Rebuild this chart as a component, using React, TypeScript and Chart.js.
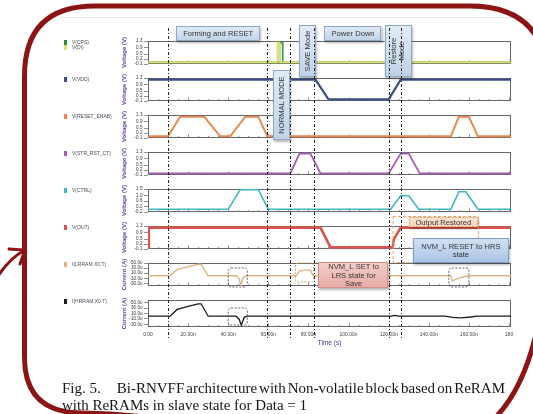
import React, { useEffect, useRef } from "react";
import { Chart, registerables } from "chart.js";

Chart.register(...registerables);

// ---------------- data ----------------
const TIME_MAX = 181;

const xTickValues = [0, 20, 40, 60, 80, 100, 120, 140, 160, 180];
const xTickLabels = ["0.00", "20.00n", "40.00n", "60.00n", "80.00n", "100.00n", "120.00n", "140.00n", "160.00n", "180"];

const voltTickValues = [-0.1, 0.2, 0.5, 0.9, 1.3];
const voltTickLabels = ["-0.1", "0.2", "0.5", "0.9", "1.3"];
const ctrlTickValues = [-0.2, 0.2, 0.6, 1.0, 1.5];
const ctrlTickLabels = ["-0.2", "0.2", "0.6", "1.0", "1.5"];
const curTickValues = [-30, -10, 10, 30, 50];
const curTickLabels = ["-30.0u", "-10.0u", "10.0u", "30.0u", "50.0u"];

const vdiTime = [0, 64.4, 64.5, 65.6, 65.7, 181];
const vdiVolt = [0, 0, 1.2, 1.2, 0, 0];
const vcpsTime = [0, 65.5, 65.6, 67.1, 67.2, 181];
const vcpsVolt = [0, 0, 1.2, 1.2, 0, 0];
const vddTime = [0, 83.5, 90, 120, 126, 181];
const vddVolt = [1.2, 1.2, 0, 0, 1.2, 1.2];
const resetTime = [0, 10, 16, 28, 36, 41, 48.5, 55, 59.5, 151, 155, 160, 164.5, 181];
const resetVolt = [0, 0, 1.2, 1.2, 0, 0, 1.2, 1.2, 0, 0, 1.2, 1.2, 0, 0];
const strTime = [0, 71, 75.5, 81, 86, 120, 126, 130, 135.5, 181];
const strVolt = [0, 0, 1.2, 1.2, 0, 0, 1.2, 1.2, 0, 0];
const ctrlTime = [0, 40, 46, 55, 60, 121, 126, 130, 135, 151, 155, 158.5, 164.5, 181];
const ctrlVolt = [0, 0, 1.45, 1.45, 0, 0, 1.0, 1.0, 0, 0, 1.3, 1.3, 0, 0];
const outTime = [0, 0.4, 86, 91, 122, 122.6, 126, 181];
const outVolt = [0, 1.2, 1.2, 0, 0, 0.5, 1.2, 1.2];
const iLrsTime = [0, 11, 14.5, 20, 25, 26.5, 30, 44, 45.5, 46.2, 47.5, 49, 74, 75.5, 78, 81, 82.3, 151, 151.6, 155, 158, 161, 181];
const iLrsCur = [0, 0, 25, 35, 45, 45, 0, 0, -12, -38, -6, 0, 0, 18, 22, 22, 0, 0, -20, -9, -3, 0, 0];
const iHrsTime = [0, 11, 14.5, 20, 25, 26.5, 30, 44, 45.5, 46.5, 48, 49.5, 121.5, 123, 125, 148, 152, 156, 161, 164, 181];
const iHrsCur = [0, 0, 25, 36, 46, 46, 0, 0, -12, -33, -4, 0, 0, 3, 0, 0, -4, -6, -3, 0, 0];

const markerTimes = [10, 59.5, 71, 83, 120, 126];

const captionLead = "Fig. 5.";
const captionRest = "Bi-RNVFF architecture with Non-volatile block based on ReRAM";
const captionLine2 = "with ReRAMs in slave state for Data = 1";

// ---------------- layout / style ----------------
const panelIds = ["p1", "p2", "p3", "p4", "p5", "p6", "p7", "p8"];

const legendItems = [
  { panel: "p1", row: 0, label: "V(CPS)", color: "#2f8a3a" },
  { panel: "p1", row: 1, label: "V(DI)", color: "#e2df74" },
  { panel: "p2", row: 0, label: "V(VDD)", color: "#3b4d86" },
  { panel: "p3", row: 0, label: "V(RESET_ENAB)", color: "#e8874f" },
  { panel: "p4", row: 0, label: "V(STR_RST_CT)", color: "#a55bb5" },
  { panel: "p5", row: 0, label: "V(CTRL)", color: "#3fb6c0" },
  { panel: "p6", row: 0, label: "V(OUT)", color: "#d9534f" },
  { panel: "p7", row: 0, label: "I(LRRAM.X0.T)", color: "#d9b585" },
  { panel: "p8", row: 0, label: "I(HRRAM.X0.T)", color: "#1a1a1a" },
];

const notes = [
  { t0: 14, t1: 56, y0: 26, y1: 41, lines: ["Forming and RESET"], kind: "blue", vertical: false },
  { t0: 88, t1: 116.5, y0: 26, y1: 41, lines: ["Power Down"], kind: "blue", vertical: false },
  { t0: 75.5, t1: 84, y0: 25, y1: 77, lines: ["SAVE Mode"], kind: "blue", vertical: true },
  { t0: 62.5, t1: 71, y0: 70, y1: 140, lines: ["NORMAL MODE"], kind: "blue", vertical: true },
  { t0: 118, t1: 131.5, y0: 25, y1: 77, lines: ["Restore", "Mode"], kind: "blue", vertical: true },
  { t0: 130, t1: 164.5, y0: 217, y1: 227, lines: ["Output Restored"], kind: "peach", vertical: false },
  { t0: 132, t1: 180, y0: 238, y1: 263, lines: ["NVM_L RESET to HRS", "state"], kind: "deepblue", vertical: false },
  { t0: 85, t1: 120, y0: 262, y1: 288, lines: ["NVM_L SET to", "LRS state for", "Save"], kind: "red", vertical: false },
];

const dashedBoxes = [
  { t0: 40, t1: 49.5, y0: 268, y1: 287, color: "#555" },
  { t0: 73.5, t1: 82.5, y0: 263, y1: 282, color: "#c99a55" },
  { t0: 150, t1: 160, y0: 268, y1: 287, color: "#555" },
  { t0: 40, t1: 49.5, y0: 308, y1: 325, color: "#555" },
];

const MAROON = "#8c1414";

function roundRectPath(ctx: any, x: number, y: number, w: number, h: number, r: number) {
  ctx.beginPath();
  ctx.moveTo(x + r, y);
  ctx.lineTo(x + w - r, y);
  ctx.quadraticCurveTo(x + w, y, x + w, y + r);
  ctx.lineTo(x + w, y + h - r);
  ctx.quadraticCurveTo(x + w, y + h, x + w - r, y + h);
  ctx.lineTo(x + r, y + h);
  ctx.quadraticCurveTo(x, y + h, x, y + h - r);
  ctx.lineTo(x, y + r);
  ctx.quadraticCurveTo(x, y, x + r, y);
  ctx.closePath();
}

const overlayPlugin = {
  id: "overlay",
  beforeDraw(chart: any) {
    const { ctx } = chart;
    ctx.save();
    ctx.fillStyle = "#ffffff";
    ctx.fillRect(0, 0, chart.width, chart.height);
    ctx.strokeStyle = "#e4e4e4";
    ctx.lineWidth = 1;
    ctx.beginPath();
    ctx.moveTo(60, 17.5);
    ctx.lineTo(514, 17.5);
    ctx.stroke();
    ctx.restore();
  },
  beforeDatasetsDraw(chart: any) {
    const { ctx, chartArea, scales } = chart;
    const xs = scales.x;
    ctx.save();
    for (const id of panelIds) {
      const s = scales[id];
      const top = Math.round(s.top) + 0.5;
      const bottom = Math.round(s.bottom) - 0.5;
      ctx.strokeStyle = "#666";
      ctx.lineWidth = 1;
      ctx.strokeRect(chartArea.left + 0.5, top, chartArea.width - 1, bottom - top);
      ctx.strokeStyle = "#8a8a8a";
      for (let t = 5; t < TIME_MAX; t += 5) {
        const x = Math.round(xs.getPixelForValue(t)) + 0.5;
        const len = t % 20 === 0 ? 3 : 1.5;
        ctx.beginPath();
        ctx.moveTo(x, bottom);
        ctx.lineTo(x, bottom - len);
        ctx.stroke();
      }
    }
    ctx.restore();
  },
  afterDraw(chart: any) {
    const { ctx, scales } = chart;
    const xs = scales.x;
    const X = (v: number) => xs.getPixelForValue(v);
    ctx.save();

    // dashed region around restored output
    ctx.setLineDash([3, 2]);
    ctx.strokeStyle = "#e0a46c";
    ctx.lineWidth = 1;
    ctx.strokeRect(X(122) + 0.5, 216.5, X(164.5) - X(122), 46);
    ctx.setLineDash([]);

    // annotation boxes
    for (const n of notes) {
      const x0 = X(n.t0), x1 = X(n.t1);
      const w = x1 - x0, h = n.y1 - n.y0;
      const g = ctx.createLinearGradient(0, n.y0, 0, n.y1);
      let stroke = "#8ea7c6";
      if (n.kind === "blue") {
        g.addColorStop(0, "#e3ecf6");
        g.addColorStop(1, "#bfd2e9");
      } else if (n.kind === "deepblue") {
        g.addColorStop(0, "#d3e1f3");
        g.addColorStop(1, "#a9c3e6");
        stroke = "#7d9cc8";
      } else if (n.kind === "red") {
        g.addColorStop(0, "#f3cfcb");
        g.addColorStop(1, "#e8aaa4");
        stroke = "#d38d86";
      } else {
        g.addColorStop(0, "#fde6d4");
        g.addColorStop(1, "#f8d2b8");
        stroke = "#e3a06a";
      }
      ctx.save();
      ctx.shadowColor = "rgba(0,0,0,0.28)";
      ctx.shadowBlur = 2;
      ctx.shadowOffsetX = 1;
      ctx.shadowOffsetY = 1.5;
      ctx.fillStyle = g;
      ctx.fillRect(x0, n.y0, w, h);
      ctx.restore();
      ctx.strokeStyle = stroke;
      ctx.lineWidth = 1;
      if (n.kind === "peach") ctx.setLineDash([2, 1.5]);
      ctx.strokeRect(Math.round(x0) + 0.5, n.y0 + 0.5, Math.round(w) - 1, h - 1);
      ctx.setLineDash([]);

      ctx.fillStyle = "#353535";
      ctx.font = "7.6px 'Liberation Sans', Arial, sans-serif";
      ctx.textAlign = "center";
      ctx.textBaseline = "middle";
      const lh = 8.4;
      if (n.vertical) {
        ctx.save();
        ctx.translate((x0 + x1) / 2, (n.y0 + n.y1) / 2);
        ctx.rotate(-Math.PI / 2);
        n.lines.forEach((ln, i) => {
          ctx.fillText(ln, 0, (i - (n.lines.length - 1) / 2) * lh);
        });
        ctx.restore();
      } else {
        n.lines.forEach((ln, i) => {
          ctx.fillText(ln, (x0 + x1) / 2, (n.y0 + n.y1) / 2 + (i - (n.lines.length - 1) / 2) * lh + 0.5);
        });
      }
    }

    // small dashed rounded boxes
    for (const d of dashedBoxes) {
      ctx.strokeStyle = d.color;
      ctx.lineWidth = 0.9;
      ctx.setLineDash([2, 1.5]);
      roundRectPath(ctx, X(d.t0), d.y0, X(d.t1) - X(d.t0), d.y1 - d.y0, 3);
      ctx.stroke();
    }
    ctx.setLineDash([]);

    // vertical marker lines
    ctx.strokeStyle = "#222";
    ctx.lineWidth = 1;
    ctx.setLineDash([3, 2, 1, 2]);
    for (const t of markerTimes) {
      const x = Math.round(X(t)) + 0.5;
      ctx.beginPath();
      ctx.moveTo(x, 28);
      ctx.lineTo(x, 338);
      ctx.stroke();
    }
    ctx.setLineDash([]);

    // legend labels on the left
    ctx.font = "5px 'Liberation Sans', Arial, sans-serif";
    ctx.textAlign = "left";
    ctx.textBaseline = "middle";
    for (const it of legendItems) {
      const s = scales[it.panel];
      const y = s.top + 1.5 + it.row * 5;
      ctx.fillStyle = it.color;
      ctx.fillRect(64, y - 2.5, 3, 5);
      ctx.fillStyle = "#4a4a5a";
      ctx.fillText(it.label, 72, y);
    }

    // outer hand-drawn frame
    ctx.strokeStyle = MAROON;
    ctx.lineWidth = 5;
    ctx.lineCap = "round";
    ctx.beginPath();
    ctx.moveTo(24.5, 300);
    ctx.lineTo(24.5, 76);
    ctx.quadraticCurveTo(24.5, 6, 95, 6);
    ctx.lineTo(470, 6);
    ctx.quadraticCurveTo(549, 6, 549, 90);
    ctx.lineTo(549, 200);
    ctx.quadraticCurveTo(549, 410, 460, 440);
    ctx.stroke();
    ctx.beginPath();
    ctx.moveTo(24.5, 300);
    ctx.lineTo(24.5, 357);
    ctx.quadraticCurveTo(24.5, 413, 82, 413);
    ctx.quadraticCurveTo(150, 414, 220, 430);
    ctx.stroke();

    // arrow
    ctx.lineWidth = 3;
    ctx.beginPath();
    ctx.moveTo(-2, 276);
    ctx.quadraticCurveTo(10, 258, 25, 250);
    ctx.stroke();
    ctx.beginPath();
    ctx.moveTo(9, 249);
    ctx.lineTo(25, 250);
    ctx.lineTo(20, 264);
    ctx.stroke();

    // caption
    ctx.fillStyle = "#151515";
    ctx.font = "15px 'Liberation Serif', 'Times New Roman', serif";
    ctx.textAlign = "left";
    ctx.textBaseline = "alphabetic";
    const left = 62, right = 505;
    ctx.fillText(captionLead, left, 393);
    const words = captionRest.split(" ");
    const start = left + ctx.measureText(captionLead).width + 16;
    const wordsW = words.reduce((a, w) => a + ctx.measureText(w).width, 0);
    const gap = (right - start - wordsW) / (words.length - 1);
    let cx = start;
    for (const w of words) {
      ctx.fillText(w, cx, 393);
      cx += ctx.measureText(w).width + gap;
    }
    ctx.fillText(captionLine2, left, 410);

    ctx.restore();
  },
};

function panelScale(weight: number, stackWeight: number, min: number, max: number, tickValues: number[], tickLabels: string[], title: string) {
  return {
    type: "linear",
    position: "left",
    stack: "panels",
    stackWeight,
    weight,
    min,
    max,
    afterBuildTicks: (s: any) => {
      s.ticks = tickValues.map((v) => ({ value: v }));
    },
    afterFit: (s: any) => {
      s.width = 28;
    },
    ticks: {
      autoSkip: false,
      padding: 1.5,
      color: "#333",
      font: { size: 4.6, family: "'Liberation Sans', Arial, sans-serif" },
      callback: (v: number) => {
        const i = tickValues.findIndex((t) => Math.abs(t - v) < 1e-9);
        return i >= 0 ? tickLabels[i] : "";
      },
    },
    grid: { drawOnChartArea: false, tickLength: 4, color: "#777", lineWidth: 0.8 },
    border: { display: false },
    title: {
      display: true,
      text: title,
      color: "#4b4bb4",
      font: { size: 6, family: "'Liberation Sans', Arial, sans-serif", weight: "bold" },
      padding: { top: 1, bottom: 0 },
    },
  };
}

function spacer(weight: number, stackWeight: number) {
  return { type: "linear", position: "left", stack: "panels", stackWeight, weight, display: false };
}

export default function App() {
  const ref = useRef<HTMLCanvasElement>(null);
  useEffect(() => {
    const canvas = ref.current;
    if (!canvas) return;
    const mk = (t: number[], v: number[]) => t.map((x, i) => ({ x, y: v[i] }));
    const series = [
      { label: "V(DI)", d: mk(vdiTime, vdiVolt), axis: "p1", color: "#dedb70", width: 1.6 },
      { label: "V(CPS)", d: mk(vcpsTime, vcpsVolt), axis: "p1", color: "#3a9a44", width: 1.6 },
      { label: "V(VDD)", d: mk(vddTime, vddVolt), axis: "p2", color: "#3b4d86", width: 2.2 },
      { label: "V(RESET_ENAB)", d: mk(resetTime, resetVolt), axis: "p3", color: "#e8874f", width: 2 },
      { label: "V(STR_RST_CT)", d: mk(strTime, strVolt), axis: "p4", color: "#a55bb5", width: 1.8 },
      { label: "V(CTRL)", d: mk(ctrlTime, ctrlVolt), axis: "p5", color: "#3fb6c0", width: 1.6 },
      { label: "V(OUT)", d: mk(outTime, outVolt), axis: "p6", color: "#d9534f", width: 2.6 },
      { label: "I(LRRAM.X0.T)", d: mk(iLrsTime, iLrsCur), axis: "p7", color: "#d9b585", width: 1.4 },
      { label: "I(HRRAM.X0.T)", d: mk(iHrsTime, iHrsCur), axis: "p8", color: "#1a1a1a", width: 1.3 },
    ];
    const chart = new Chart(canvas, {
      type: "line",
      data: {
        datasets: series.map((s) => ({
          label: s.label,
          data: s.d,
          xAxisID: "x",
          yAxisID: s.axis,
          borderColor: s.color,
          backgroundColor: s.color,
          borderWidth: s.width,
          pointRadius: 0,
          fill: false,
          tension: 0,
        })),
      },
      options: {
        responsive: false,
        animation: false,
        events: [],
        layout: { padding: { left: 120, right: 22, top: 41, bottom: 65 } },
        plugins: { legend: { display: false }, tooltip: { enabled: false }, title: { display: false } },
        scales: {
          x: {
            type: "linear",
            position: "bottom",
            min: 0,
            max: TIME_MAX,
            afterBuildTicks: (s: any) => {
              s.ticks = xTickValues.map((v) => ({ value: v }));
            },
            afterFit: (s: any) => {
              s.height = 22;
            },
            ticks: {
              autoSkip: false,
              maxRotation: 0,
              padding: 5,
              color: "#444",
              font: { size: 5, family: "'Liberation Sans', Arial, sans-serif" },
              callback: (v: number) => {
                const i = xTickValues.indexOf(v);
                return i >= 0 ? xTickLabels[i] : "";
              },
            },
            grid: { display: false, drawTicks: false },
            border: { display: false },
            title: {
              display: true,
              text: "Time (s)",
              color: "#3a3aa8",
              font: { size: 6.5, family: "'Liberation Sans', Arial, sans-serif" },
              padding: { top: 0, bottom: 2 },
            },
          },
          p1: panelScale(15, 23, -0.1, 1.3, voltTickValues, voltTickLabels, "Voltage (V)"),
          g1: spacer(14, 14),
          p2: panelScale(13, 23, -0.1, 1.3, voltTickValues, voltTickLabels, "Voltage (V)"),
          g2: spacer(12, 14),
          p3: panelScale(11, 23, -0.1, 1.3, voltTickValues, voltTickLabels, "Voltage (V)"),
          g3: spacer(10, 14),
          p4: panelScale(9, 23, -0.1, 1.3, voltTickValues, voltTickLabels, "Voltage (V)"),
          g4: spacer(8, 14),
          p5: panelScale(7, 23, -0.2, 1.5, ctrlTickValues, ctrlTickLabels, "Voltage (V)"),
          g5: spacer(6, 14),
          p6: panelScale(5, 23, -0.1, 1.3, voltTickValues, voltTickLabels, "Voltage (V)"),
          g6: spacer(4, 14),
          p7: panelScale(3, 23, -40, 50, curTickValues, curTickLabels, "Current (A)"),
          g7: spacer(2, 14),
          p8: panelScale(1, 27, -40, 60, curTickValues, curTickLabels, "Current (A)"),
        },
      } as any,
      plugins: [overlayPlugin as any],
    });
    return () => chart.destroy();
  }, []);

  return (
    <div style={{ position: "fixed", left: 0, top: 0, width: 533, height: 414, background: "#fff" }}>
      <canvas ref={ref} width={533} height={414} style={{ display: "block", width: 533, height: 414 }} />
    </div>
  );
}
